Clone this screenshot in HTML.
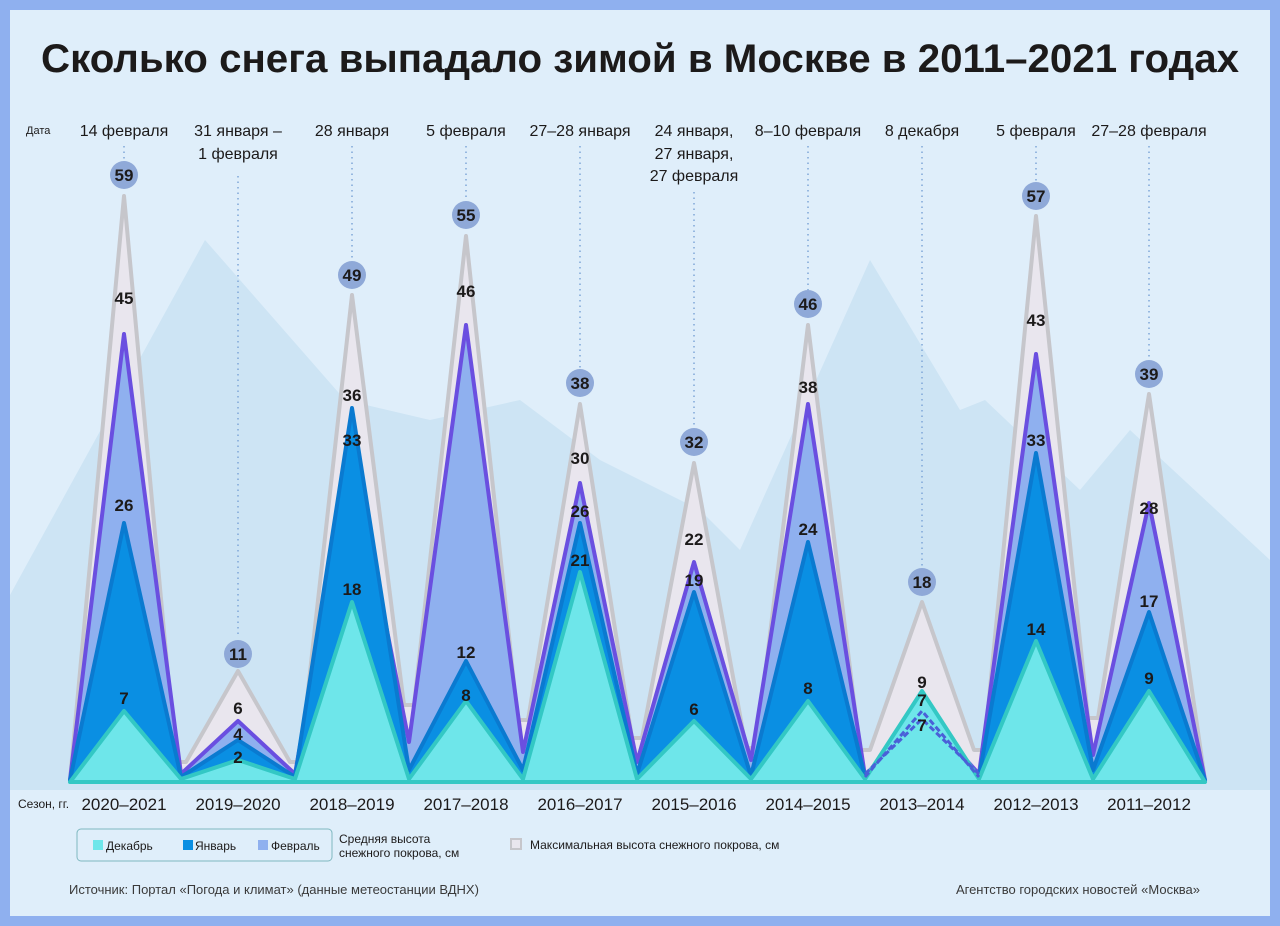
<!DOCTYPE html>
<html><head><meta charset="utf-8"><style>
body{margin:0;background:#8fb0ef;}
svg{display:block;font-family:"Liberation Sans",sans-serif;}
</style></head><body>
<svg width="1280" height="926" viewBox="0 0 1280 926" xmlns="http://www.w3.org/2000/svg">
<rect x="0" y="0" width="1280" height="926" fill="#8fb0ef"/>
<rect x="10" y="10" width="1260" height="906" fill="#dfeefa"/>
<polygon fill="#cde4f4" points="10,595 205,240 345,400 430,420 520,400 600,460 700,510 740,550 870,260 960,410 985,400 1080,490 1130,430 1270,560 1270,790 10,790"/>
<text x="640" y="72" text-anchor="middle" font-size="40" font-weight="bold" fill="#1c1a1a" textLength="1198" lengthAdjust="spacingAndGlyphs">Сколько снега выпадало зимой в Москве в 2011–2021 годах</text>

<g stroke-linejoin="round" stroke-width="4">
<path fill="#e9e6ee" stroke="#c6c6cb" d="M70,780 L124,196 L176,762 L186,762 L238,671 L290,762 L300,762 L352,295 L404,705 L414,705 L466,236 L518,720 L528,720 L580,404 L632,738 L642,738 L694,463 L746,748 L756,748 L808,325 L860,750 L870,750 L922,602 L974,750 L984,750 L1036,216 L1088,718 L1098,718 L1149,394 L1205,780 Z"/>
<path fill="#8fb0ef" stroke="#6a4fe0" d="M70,780 L124,334 L181,774 L238,721 L295,774 L352,453 L409,742 L466,325 L523,752 L580,483 L637,762 L694,562 L751,760 L808,404 L865,776 L922,711 L979,774 L1036,354 L1093,755 L1149,503 L1205,780 Z"/>
<path fill="#0a8fe3" stroke="#0a7ad0" d="M70,780 L124,523 L181,777 L238,740 L295,777 L352,408 L409,770 L466,661 L523,770 L580,523 L637,774 L694,592 L751,776 L808,542 L865,777 L922,711 L979,777 L1036,453 L1093,770 L1149,612 L1205,780 Z"/>
<path fill="#6ee6ea" stroke="#33c8c4" d="M70,782 L124,711 L181,779 L238,760 L295,779 L352,602 L409,779 L466,701 L523,779 L580,572 L637,779 L694,721 L751,779 L808,701 L865,779 L922,691 L979,779 L1036,641 L1093,779 L1149,691 L1205,782 Z"/>
<path fill="none" stroke="#4a60d8" stroke-width="3" stroke-dasharray="6,3" d="M865,777 L922,711 L979,777"/>
<path fill="none" stroke="#4a60d8" stroke-width="3" stroke-dasharray="6,3" d="M865,774 L922,719 L979,774"/>
</g>

<g stroke="#7fa6d8" stroke-width="1.5" stroke-dasharray="1.5,4">
<line x1="124" y1="146" x2="124" y2="160"/><line x1="238" y1="176" x2="238" y2="638"/>
<line x1="352" y1="146" x2="352" y2="260"/><line x1="466" y1="146" x2="466" y2="200"/>
<line x1="580" y1="146" x2="580" y2="368"/><line x1="694" y1="192" x2="694" y2="428"/>
<line x1="808" y1="146" x2="808" y2="290"/><line x1="922" y1="146" x2="922" y2="566"/>
<line x1="1036" y1="146" x2="1036" y2="182"/><line x1="1149" y1="146" x2="1149" y2="358"/>
</g>

<g fill="#8fa9d8">
<circle cx="124" cy="175" r="14"/><circle cx="238" cy="654" r="14"/><circle cx="352" cy="275" r="14"/><circle cx="466" cy="215" r="14"/><circle cx="580" cy="383" r="14"/><circle cx="694" cy="442" r="14"/><circle cx="808" cy="304" r="14"/><circle cx="922" cy="582" r="14"/><circle cx="1036" cy="196" r="14"/><circle cx="1149" cy="374" r="14"/>
</g>
<g font-size="17" font-weight="bold" fill="#1c1a1a" text-anchor="middle">
<text x="124" y="181">59</text><text x="238" y="660">11</text><text x="352" y="281">49</text><text x="466" y="221">55</text><text x="580" y="389">38</text><text x="694" y="448">32</text><text x="808" y="310">46</text><text x="922" y="588">18</text><text x="1036" y="202">57</text><text x="1149" y="380">39</text>
<text x="124" y="304">45</text><text x="124" y="511">26</text><text x="124" y="704">7</text>
<text x="238" y="714">6</text><text x="238" y="740">4</text><text x="238" y="763">2</text>
<text x="352" y="401">36</text><text x="352" y="446">33</text><text x="352" y="595">18</text>
<text x="466" y="297">46</text><text x="466" y="658">12</text><text x="466" y="701">8</text>
<text x="580" y="464">30</text><text x="580" y="517">26</text><text x="580" y="566">21</text>
<text x="694" y="545">22</text><text x="694" y="586">19</text><text x="694" y="715">6</text>
<text x="808" y="393">38</text><text x="808" y="535">24</text><text x="808" y="694">8</text>
<text x="922" y="688">9</text><text x="922" y="706">7</text><text x="922" y="731">7</text>
<text x="1036" y="326">43</text><text x="1036" y="446">33</text><text x="1036" y="635">14</text>
<text x="1149" y="514">28</text><text x="1149" y="607">17</text><text x="1149" y="684">9</text>
</g>

<g font-size="16" fill="#1c1a1a" text-anchor="middle">
<text x="124" y="136">14 февраля</text>
<text x="238" y="136">31 января –</text><text x="238" y="159">1 февраля</text>
<text x="352" y="136">28 января</text><text x="466" y="136">5 февраля</text>
<text x="580" y="136">27–28 января</text>
<text x="694" y="136">24 января,</text><text x="694" y="159">27 января,</text><text x="694" y="181">27 февраля</text>
<text x="808" y="136">8–10 февраля</text><text x="922" y="136">8 декабря</text>
<text x="1036" y="136">5 февраля</text><text x="1149" y="136">27–28 февраля</text>
</g>
<text x="26" y="134" font-size="11" fill="#1c1a1a">Дата</text>

<text x="18" y="808" font-size="12" fill="#1c1a1a">Сезон, гг.</text>
<g font-size="17" fill="#1c1a1a" text-anchor="middle">
<text x="124" y="810">2020–2021</text><text x="238" y="810">2019–2020</text><text x="352" y="810">2018–2019</text><text x="466" y="810">2017–2018</text><text x="580" y="810">2016–2017</text><text x="694" y="810">2015–2016</text><text x="808" y="810">2014–2015</text><text x="922" y="810">2013–2014</text><text x="1036" y="810">2012–2013</text><text x="1149" y="810">2011–2012</text>
</g>

<rect x="77" y="829" width="255" height="32" rx="4" fill="none" stroke="#7fb8c0" stroke-width="1"/>
<rect x="93" y="840" width="10" height="10" fill="#6ee6ea"/><text x="106" y="850" font-size="12" fill="#1c1a1a">Декабрь</text>
<rect x="183" y="840" width="10" height="10" fill="#0a8fe3"/><text x="195" y="850" font-size="12" fill="#1c1a1a">Январь</text>
<rect x="258" y="840" width="10" height="10" fill="#8fb0ef"/><text x="271" y="850" font-size="12" fill="#1c1a1a">Февраль</text>
<text x="339" y="843" font-size="12" fill="#1c1a1a">Средняя высота</text>
<text x="339" y="857" font-size="12" fill="#1c1a1a">снежного покрова, см</text>
<rect x="511" y="839" width="10" height="10" fill="#e9e6ee" stroke="#c6c6cb" stroke-width="2"/>
<text x="530" y="849" font-size="12" fill="#1c1a1a">Максимальная высота снежного покрова, см</text>

<text x="69" y="894" font-size="13" fill="#3a3a3a">Источник: Портал «Погода и климат» (данные метеостанции ВДНХ)</text>
<text x="1200" y="894" font-size="13" fill="#3a3a3a" text-anchor="end">Агентство городских новостей «Москва»</text>
</svg>
</body></html>
